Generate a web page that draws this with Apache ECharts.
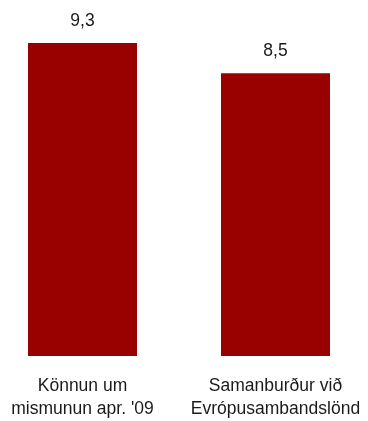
<!DOCTYPE html>
<html>
<head>
<meta charset="utf-8">
<script src="https://cdn.jsdelivr.net/npm/echarts@6/dist/echarts.min.js"></script>
<style>
  html, body { margin: 0; padding: 0; background: #fff; }
  #chart { width: 368px; height: 421px; }
</style>
</head>
<body>
<div id="chart"></div>
<script>
// Category names and values
const categories = ['Könnun um\nmismunun apr. \'09', 'Samanburður við\nEvrópusambandslönd'];
const values = [9.3, 8.5];

const FONT = '"Liberation Sans", Arial, sans-serif';

const chart = echarts.init(document.getElementById('chart'));
chart.setOption({
  animation: false,
  grid: { left: -14, right: -4, top: 43, bottom: 65, outerBoundsMode: 'none', containLabel: false },
  xAxis: {
    type: 'category',
    data: categories,
    axisLine: { show: false },
    axisTick: { show: false },
    axisLabel: {
      interval: 0,
      margin: 18,
      fontFamily: FONT,
      fontSize: 17.5,
      lineHeight: 23.5,
      color: '#1a1a1a'
    }
  },
  yAxis: {
    type: 'value',
    min: 1,
    max: 9.3,
    show: false,
    splitLine: { show: false }
  },
  series: [{
    type: 'bar',
    data: values,
    barWidth: 109,
    itemStyle: { color: '#990000' },
    label: {
      show: true,
      position: 'top',
      distance: 13,
      fontFamily: FONT,
      fontSize: 17.5,
      color: '#1a1a1a',
      formatter: p => String(p.value).replace('.', ',')
    }
  }]
});
</script>
</body>
</html>
